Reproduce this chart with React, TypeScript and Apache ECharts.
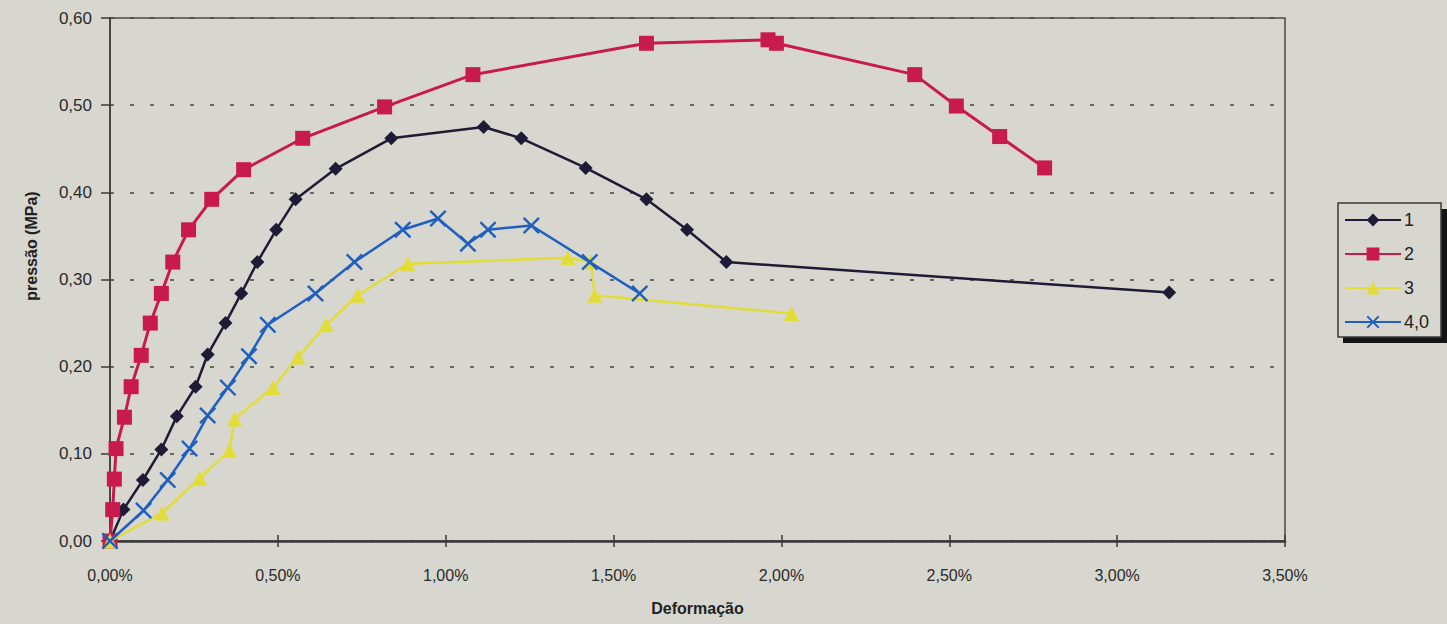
import React, { useEffect, useRef } from "react";
import * as echarts from "echarts";

// Deformação (%) and pressão (MPa) for each test
const s1X = [0, 0.04, 0.098, 0.153, 0.199, 0.255, 0.291, 0.344, 0.391, 0.439, 0.495, 0.553, 0.672, 0.838, 1.113, 1.225, 1.417, 1.598, 1.719, 1.836, 3.155];
const s1Y = [0, 0.036, 0.07, 0.105, 0.143, 0.177, 0.214, 0.25, 0.284, 0.32, 0.357, 0.392, 0.427, 0.462, 0.475, 0.462, 0.428, 0.392, 0.357, 0.32, 0.285];

const s2X = [0, 0.008, 0.013, 0.018, 0.043, 0.063, 0.093, 0.12, 0.153, 0.187, 0.234, 0.303, 0.398, 0.574, 0.818, 1.081, 1.598, 1.96, 1.985, 2.397, 2.521, 2.65, 2.784];
const s2Y = [0, 0.036, 0.071, 0.106, 0.142, 0.177, 0.213, 0.25, 0.284, 0.32, 0.357, 0.392, 0.426, 0.462, 0.498, 0.535, 0.571, 0.575, 0.571, 0.535, 0.499, 0.464, 0.428];

const s3X = [0, 0.155, 0.267, 0.356, 0.371, 0.485, 0.56, 0.644, 0.738, 0.887, 1.364, 1.432, 1.444, 2.03];
const s3Y = [0, 0.032, 0.072, 0.104, 0.14, 0.176, 0.211, 0.248, 0.282, 0.318, 0.325, 0.32, 0.282, 0.261];

const s4X = [0, 0.1, 0.172, 0.237, 0.291, 0.351, 0.414, 0.47, 0.612, 0.728, 0.872, 0.977, 1.066, 1.126, 1.255, 1.429, 1.578];
const s4Y = [0, 0.035, 0.07, 0.106, 0.144, 0.176, 0.212, 0.248, 0.284, 0.32, 0.357, 0.37, 0.341, 0.357, 0.362, 0.32, 0.284];

const seriesNames = ["1", "2", "3", "4,0"];
const xTicks = { min: 0, max: 3.5, interval: 0.5 };
const yTicks = { min: 0, max: 0.6, interval: 0.1 };

const BG = "#d7d7cf";
const FONT = "'Liberation Sans', Arial, Helvetica, sans-serif";
const COLORS = ["#1d1b36", "#c81a4c", "#e2dc38", "#1f5fc0"];
const CROSS = "path://M0,1 L1,0 L5,4 L9,0 L10,1 L6,5 L10,9 L9,10 L5,6 L1,10 L0,9 L4,5 Z";

const pairs = (xs: number[], ys: number[]) => xs.map((x, i) => [x, ys[i]]);

export default function App() {
  const ref = useRef<HTMLDivElement>(null);

  useEffect(() => {
    if (!ref.current) return;
    const chart = echarts.init(ref.current, null, { renderer: "svg" });

    const fmtX = (v: number) => v.toFixed(2).replace(".", ",") + "%";
    const fmtY = (v: number) => v.toFixed(2).replace(".", ",");

    const mk = (i: number, xs: number[], ys: number[], symbol: string, size: number, width: number) => ({
      name: seriesNames[i],
      type: "line",
      data: pairs(xs, ys),
      symbol,
      symbolSize: size,
      showAllSymbol: true,
      lineStyle: { color: COLORS[i], width },
      itemStyle: { color: COLORS[i] },
      emphasis: { disabled: true },
      z: 3 + i,
    });

    chart.setOption({
      animation: false,
      backgroundColor: BG,
      textStyle: { fontFamily: FONT },
      grid: {
        left: 110,
        top: 18,
        width: 1175,
        height: 523,
        show: true,
        borderColor: "#4a4a4a",
        borderWidth: 1.5,
        backgroundColor: "transparent",
      },
      legend: {
        orient: "vertical",
        left: 1338,
        top: 203,
        itemWidth: 56,
        itemHeight: 16,
        itemGap: 16,
        padding: [8, 12, 6, 6],
        backgroundColor: BG,
        borderColor: "#3a3a3a",
        borderWidth: 1.5,
        textStyle: { fontFamily: FONT, fontSize: 18, lineHeight: 18, color: "#222", padding: [0, 0, 0, -2] },
        data: seriesNames,
        selectedMode: false,
        z: 10,
      },
      graphic: [
        { type: "rect", left: 1343, top: 209, z: 1, shape: { width: 110, height: 134 }, style: { fill: "#141414" } },
        {
          type: "text",
          x: 31,
          y: 246,
          rotation: Math.PI / 2,
          style: {
            text: "pressão (MPa)",
            font: "bold 16px " + FONT,
            fill: "#222",
            textAlign: "center",
            textVerticalAlign: "middle",
          },
        },
      ],
      xAxis: [
        {
          type: "value",
          ...xTicks,
          position: "bottom",
          name: "Deformação",
          nameLocation: "middle",
          nameGap: 59,
          nameTextStyle: { fontFamily: FONT, fontSize: 16, fontWeight: "bold", color: "#222" },
          axisLine: { show: true, lineStyle: { color: "#3a3a3a", width: 2.5 } },
          axisTick: { show: true, inside: false, length: 6, lineStyle: { color: "#3a3a3a", width: 1.5 } },
          axisLabel: { formatter: fmtX, margin: 26, fontSize: 16, color: "#2a2a2a", fontFamily: FONT },
          splitLine: { show: false },
        },
        {
          type: "value",
          ...xTicks,
          position: "bottom",
          axisLine: { show: false },
          axisTick: { show: true, inside: true, length: 6, lineStyle: { color: "#3a3a3a", width: 1.5 } },
          axisLabel: { show: false },
          splitLine: { show: false },
        },
      ],
      yAxis: {
        type: "value",
        ...yTicks,
        axisLine: { show: true, lineStyle: { color: "#3a3a3a", width: 1.5 } },
        axisTick: { show: true, inside: false, length: 9, lineStyle: { color: "#3a3a3a", width: 1.5 } },
        axisLabel: { formatter: fmtY, margin: 18, fontSize: 17, color: "#2a2a2a", fontFamily: FONT },
        splitLine: { show: true, lineStyle: { color: "#444", width: 1.5, type: [4, 16] } },
      },
      series: [
        mk(0, s1X, s1Y, "diamond", 14, 2.5),
        mk(1, s2X, s2Y, "rect", 15, 3),
        mk(2, s3X, s3Y, "triangle", 15, 2.5),
        mk(3, s4X, s4Y, CROSS, 17, 2.5),
      ],
    });

    return () => chart.dispose();
  }, []);

  return (
    <div
      ref={ref}
      style={{ position: "fixed", left: 0, top: 0, width: 1447, height: 624, background: BG }}
    />
  );
}
